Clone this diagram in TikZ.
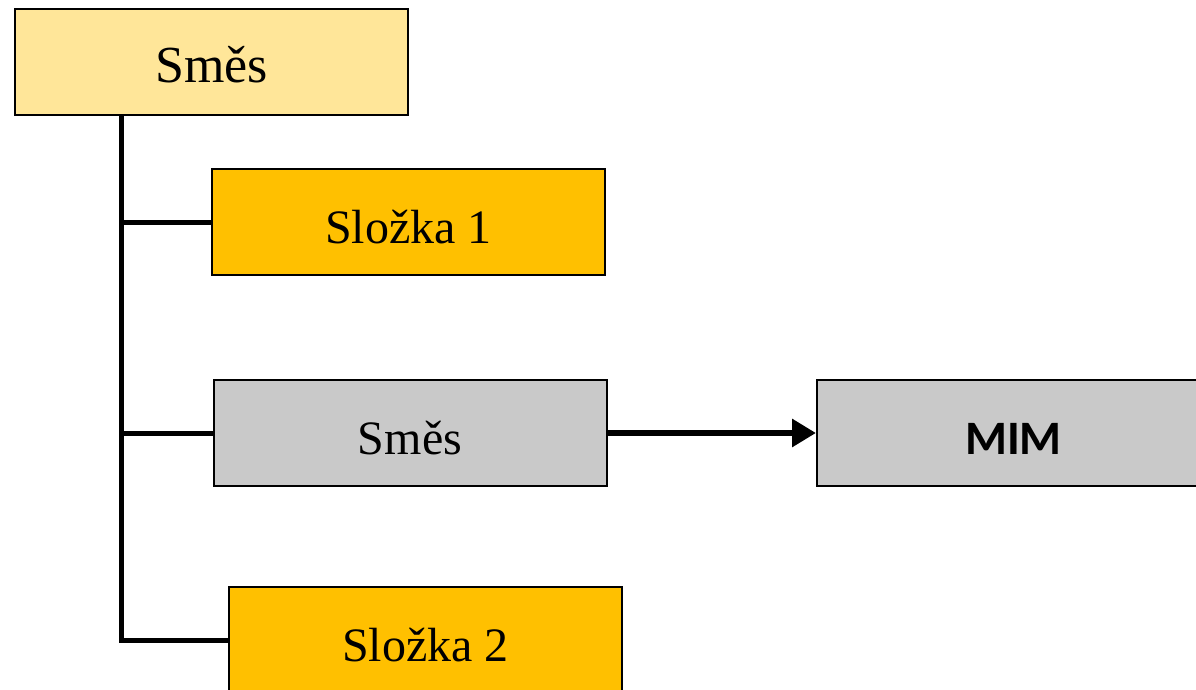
\documentclass[tikz,border=0pt]{standalone}
\usepackage{fontspec}
\setmainfont{Liberation Serif}
\newfontfamily\calibri{Carlito}
\usetikzlibrary{arrows.meta}
\definecolor{lightgold}{HTML}{FFE699}
\definecolor{gold}{HTML}{FFC000}
\definecolor{greybox}{HTML}{C9C9C9}

\begin{document}
\begin{tikzpicture}[x=0.5pt,y=-0.5pt,
  box/.style={draw,line width=1pt,minimum width=196.5pt,minimum height=53pt,inner sep=0pt,text height=21pt,text depth=0pt,font=\fontsize{24}{28}\selectfont},
  tree/.style={line width=2.5pt},
  feed/.style={line width=3pt,-{Triangle[length=12pt,width=13.5pt]}}]
  \clip (0,0) rectangle (1196,690);

  \node[box,fill=lightgold,font=\fontsize{26}{30}\selectfont] at (211.5,62) (mix) {Směs};
  \node[box,fill=gold] at (408.5,222.5) (comp1) {Složka 1};
  \node[box,fill=greybox] at (410,433) (submix) {Směs};
  \node[box,fill=greybox,font=\calibri\bfseries\fontsize{24}{28}\selectfont] at (1013.5,433) (mim) {MIM};
  \node[box,fill=gold] at (425.5,640) (comp2) {Složka 2};

  \coordinate (trunk) at (121,115);
  \draw[tree] (trunk) |- (comp2.west);
  \draw[tree] (trunk |- comp1.west) -- (comp1.west);
  \draw[tree] (trunk |- submix.west) -- (submix.west);

  \draw[feed] (submix.east) -- (mim.west);

\end{tikzpicture}
\end{document}
